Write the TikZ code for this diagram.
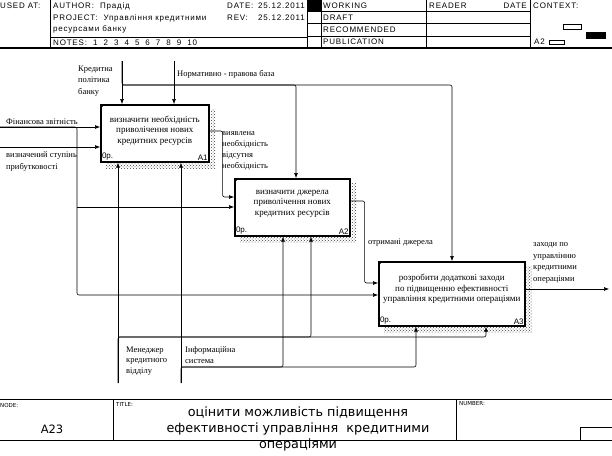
\documentclass[tikz,border=0pt]{standalone}
\usepackage{fontspec}
\setmainfont{Liberation Serif}
\setsansfont{Liberation Sans}
\newfontfamily\hdrfont[LetterSpace=10]{Liberation Sans}
\newfontfamily\frmfont{DejaVu Sans}
\usepackage{tikz}
\usetikzlibrary{arrows.meta, positioning, calc, patterns}
\tikzset{
  idefbox/.style={
    rectangle, draw=black, line width=1.6pt, fill=white,
    inner sep=0pt, anchor=north west
  },
  boxtext/.style={font=\fontsize{9}{10.5}\selectfont, align=center, inner sep=0pt},
  boxtag/.style={font=\sffamily\fontsize{8}{8}\selectfont, inner sep=1.8pt},
  shadowhatch/.style={pattern=crosshatch dots, pattern color=black!75},
  flowline/.style={
    draw=black, line width=0.6pt, rounded corners=2pt,
    -{Latex[length=5pt, width=4pt]}
  },
  arrowlabel/.style={font=\fontsize{8.5}{11.5}\selectfont, align=left, inner sep=0pt, anchor=west},
  hdrtext/.style={font=\hdrfont\fontsize{8}{9}\selectfont, inner sep=0pt, anchor=west},
  smalltag/.style={font=\frmfont\fontsize{5.5}{7}\selectfont, inner sep=0pt, anchor=west},
  frameline/.style={draw=black, line width=0.6pt}
}

\begin{document}
\begin{tikzpicture}[x=1pt, y=-1pt]
  \useasboundingbox (0,0) rectangle (612,455);

  % Header frame
  \node[hdrtext] (usedat) at (0,6) {USED AT:};
  \node[hdrtext] (author) at (53,6) {AUTHOR:\ \ Прадід};
  \node[hdrtext] (project) at (53,18) {PROJECT:\ \ Управління кредитними};
  \node[hdrtext] (project2) at (53,29) {ресурсами банку};
  \node[hdrtext] (notes) at (53,43) {NOTES:\ \ 1\ \ 2\ \ 3\ \ 4\ \ 5\ \ 6\ \ 7\ \ 8\ \ 9\ \ 10};
  \node[hdrtext] (datekey) at (227,6) {DATE:};
  \node[hdrtext] (dateval) at (258,6) {25.12.2011};
  \node[hdrtext] (revkey) at (227,18) {REV:};
  \node[hdrtext] (revval) at (258,18) {25.12.2011};
  \fill[white] (307,11) rectangle (321,48);
  \fill[black] (307,0) rectangle (321,11);
  \node[hdrtext] (working) at (323,6) {WORKING};
  \node[hdrtext] (draft) at (323,17.5) {DRAFT};
  \node[hdrtext] (recommended) at (323,30) {RECOMMENDED};
  \node[hdrtext] (publication) at (323,42) {PUBLICATION};
  \node[hdrtext] (reader) at (429,6) {READER};
  \node[hdrtext, anchor=east] (readerdate) at (527,6) {DATE};
  \node[hdrtext] (context) at (533,6) {CONTEXT:};
  \node[hdrtext] (ctxnode) at (534,42) {A2};
  \draw[frameline] (50,0) -- (50,48);
  \draw[frameline] (50,37) -- (307,37);
  \draw[frameline] (307,0) -- (307,48);
  \draw[frameline] (321,0) -- (321,48);
  \draw[frameline] (426,0) -- (426,48);
  \draw[frameline] (530,0) -- (530,48);
  \draw[frameline] (307,11) -- (530,11);
  \draw[frameline] (307,23.5) -- (530,23.5);
  \draw[frameline] (307,36) -- (530,36);
  \draw[frameline] (563,24) rectangle (581,29);
  \fill[black] (586,32) rectangle (606,39);
  \draw[frameline] (549,40) rectangle (564,44);
  \draw[line width=1.2pt] (0,48) -- (612,48);

  % Activity boxes
  \node[idefbox, minimum width=108pt, minimum height=57pt] (a1) at (100,104) {};
  \node[idefbox, minimum width=115pt, minimum height=57pt] (a2) at (234,178) {};
  \node[idefbox, minimum width=146pt, minimum height=64pt] (a3) at (378,261) {};

  \foreach \b in {a1,a2,a3} {
    \fill[shadowhatch] ($(\b.north east)+(1,5)$) rectangle ($(\b.south east)+(6,6)$);
    \fill[shadowhatch] ($(\b.south west)+(6,1)$) rectangle ($(\b.south east)+(1,6)$);
    \fill[black] (\b.north west) -- ++(5,0) -- ++(-5,5) -- cycle;
  }

  \node[boxtext] (a1text) at ($(a1.center)+(0,-3)$) {визначити необхідність\\приволічення нових\\кредитних ресурсів};
  \node[boxtext] (a2text) at ($(a2.center)+(0,-3.5)$) {визначити джерела\\приволічення нових\\кредитних ресурсів};
  \node[boxtext] (a3text) at ($(a3.center)+(0,-5)$) {розробити додаткові заходи\\по підвищенню ефективності\\управління кредитними операціями};

  \node[boxtag, anchor=south west] (a1cost) at (a1.south west) {0p.};
  \node[boxtag, anchor=south east] (a1num) at (a1.south east) {A1};
  \node[boxtag, anchor=south west] (a2cost) at (a2.south west) {0p.};
  \node[boxtag, anchor=south east] (a2num) at (a2.south east) {A2};
  \node[boxtag, anchor=south west] (a3cost) at (a3.south west) {0p.};
  \node[boxtag, anchor=south east] (a3num) at (a3.south east) {A3};

  % Ports on the boxes
  \coordinate (a1i1) at ($(a1.north west)+(0,23)$);
  \coordinate (a1i2) at ($(a1.north west)+(0,43)$);
  \coordinate (a1c1) at ($(a1.north west)+(22,0)$);
  \coordinate (a1c2) at ($(a1.north west)+(74,0)$);
  \coordinate (a1m1) at ($(a1.south west)+(18,0)$);
  \coordinate (a1m2) at ($(a1.south west)+(81,0)$);
  \coordinate (a1o) at ($(a1.north east)+(0,27)$);
  \coordinate (a2i1) at ($(a2.north west)+(0,19)$);
  \coordinate (a2i2) at ($(a2.north west)+(0,29)$);
  \coordinate (a2c1) at ($(a2.north west)+(62,0)$);
  \coordinate (a2m1) at ($(a2.south west)+(49,0)$);
  \coordinate (a2m2) at ($(a2.south west)+(77,0)$);
  \coordinate (a2o) at ($(a2.north east)+(0,23)$);
  \coordinate (a3i1) at ($(a3.north west)+(0,22)$);
  \coordinate (a3i2) at ($(a3.north west)+(0,34)$);
  \coordinate (a3c1) at ($(a3.north west)+(74,0)$);
  \coordinate (a3m1) at ($(a3.south west)+(38,0)$);
  \coordinate (a3m2) at ($(a3.south west)+(108,0)$);
  \coordinate (a3o) at ($(a3.north east)+(0,28)$);

  % Free ends and branch points
  \coordinate (finin) at (0,127);
  \coordinate (pribin) at (0,147);
  \coordinate (finsplit) at (77,127);
  \coordinate (kpin) at (122,61);
  \coordinate (kpsplit) at (122,85);
  \coordinate (nbin) at (174,61);
  \coordinate (menin) at (118,383);
  \coordinate (mensplit) at (118,337);
  \coordinate (infin) at (181,383);
  \coordinate (infsplit) at (181,367);
  \coordinate (zahout) at (609,289);

  % Inputs
  \draw[flowline] (finin) -- (a1i1);
  \draw[flowline] (pribin) -- (a1i2);
  \draw[flowline] (finin) -- (finsplit) |- (a3i2);
  \draw[flowline] (finsplit |- a2i2) -- (a2i2);

  % Controls
  \draw[flowline] (kpin) -- (a1c1);
  \draw[flowline] (nbin) -- (a1c2);
  \draw[flowline] (kpin) -- (kpsplit) -| (a3c1);
  \draw[flowline] (kpsplit) -| (a2c1);

  % Mechanisms
  \draw[flowline] (menin) -- (a1m1);
  \draw[flowline] (infin) -- (a1m2);
  \draw[flowline] (menin) -- (mensplit) -| (a3m2);
  \draw[flowline] (mensplit) -| (a2m2);
  \draw[flowline] (infin) -- (infsplit) -| (a3m1);
  \draw[flowline] (infsplit) -| (a2m1);

  % Outputs
  \draw[flowline] (a1o) -- ++(13,0) |- (a2i1);
  \draw[flowline] (a2o) -- ++(14,0) |- (a3i1);
  \draw[flowline] (a3o) -- (zahout);

  % Arrow labels
  \node[arrowlabel] (kplabel) at (78,81) {Кредитна\\політика\\банку};
  \node[arrowlabel] (nblabel) at (177,74) {Нормативно - правова база};
  \node[arrowlabel] (finlabel) at (6,122) {Фінансова звітність};
  \node[arrowlabel] (priblabel) at (6,161.5) {визначений ступінь\\прибутковості};
  \node[arrowlabel, font=\fontsize{8.5}{11}\selectfont] (a1olabel) at (222,150.5) {виявлена\\необхідність\\відсутня\\необхідність};
  \node[arrowlabel] (a2olabel) at (368,243) {отримані джерела};
  \node[arrowlabel] (a3olabel) at (533,263) {заходи по\\управлінню\\кредитними\\операціями};
  \node[arrowlabel, font=\fontsize{8.5}{10.5}\selectfont] (menlabel) at (126,361) {Менеджер\\кредитного\\відділу};
  \node[arrowlabel] (inflabel) at (185,355) {Інформаційна\\система};

  % Footer frame
  \draw[frameline] (0,399) -- (612,399);
  \draw[frameline] (0,440) -- (612,440);
  \draw[frameline] (113,399) -- (113,440);
  \draw[frameline] (456,399) -- (456,440);
  \draw[frameline] (580,427) rectangle (614,440);
  \node[smalltag] (nodekey) at (0,405) {NODE:};
  \node[smalltag] (titlekey) at (116,404) {TITLE:};
  \node[smalltag] (numberkey) at (459,404) {NUMBER:};
  \node[font=\frmfont\fontsize{11.5}{13}\selectfont, inner sep=0pt] (nodeval) at (52,429) {A23};
  \node[font=\frmfont\fontsize{12.8}{16}\selectfont, align=center, inner sep=0pt] (title) at (298,429) {оцінити можливість підвищення\\ефективності управління\ \ кредитними\\операціями};
\end{tikzpicture}
\end{document}
